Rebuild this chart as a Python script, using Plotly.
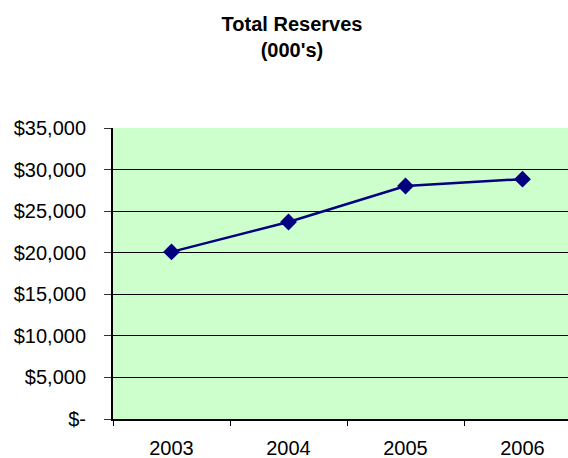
import plotly.graph_objects as go

years = ["2003", "2004", "2005", "2006"]
reserves = [20100, 23700, 28030, 28850]
ytick_vals = [0, 5000, 10000, 15000, 20000, 25000, 30000, 35000]
ytick_text = ["$-", "$5,000", "$10,000", "$15,000", "$20,000", "$25,000", "$30,000", "$35,000"]

W, H = 568, 458
L, R, T, B = 113, 0, 128, H - 419
# plot area spans x 113..568; category width 117 px
x_hi = -0.5 + (W - L) / 117.0

fig = go.Figure()
fig.add_trace(go.Scatter(
    x=years, y=reserves, mode="lines+markers",
    line=dict(color="#000080", width=2.5),
    marker=dict(symbol="diamond", size=13, color="#000080"),
    showlegend=False,
))

fig.update_layout(
    width=W, height=H,
    margin=dict(l=L, r=R, t=T, b=B, pad=0, autoexpand=False),
    paper_bgcolor="white",
    plot_bgcolor="#CCFFCC",
    font=dict(family="Arial, Liberation Sans, sans-serif", size=20, color="black"),
    title=dict(
        text="<b>Total Reserves<br>(000's)</b>",
        x=292 / W, xanchor="center", xref="container",
        y=1 - 31 / H, yanchor="top",
        font=dict(size=20, family="Arial, Liberation Sans, sans-serif"),
    ),
    xaxis=dict(
        type="category",
        range=[-0.5, x_hi],
        tickson="boundaries",
        ticks="outside", ticklen=5, tickcolor="black", tickwidth=1,
        showline=True, linecolor="black", linewidth=2,
        showgrid=False, zeroline=False,
        tickfont=dict(size=20),
        ticklabelstandoff=10,
        automargin=False,
    ),
    yaxis=dict(
        range=[0, 35000],
        tickvals=ytick_vals, ticktext=ytick_text,
        ticks="outside", ticklen=7, tickcolor="#333", tickwidth=1,
        showline=True, linecolor="black", linewidth=2,
        showgrid=True, gridcolor="black", gridwidth=1,
        zeroline=False,
        tickfont=dict(size=20),
        ticklabelstandoff=14,
        automargin=False,
    ),
)

fig.write_html(
    "out.html",
    config={"displayModeBar": False},
    post_script="document.body.style.margin='0';document.body.style.overflow='hidden';",
)
